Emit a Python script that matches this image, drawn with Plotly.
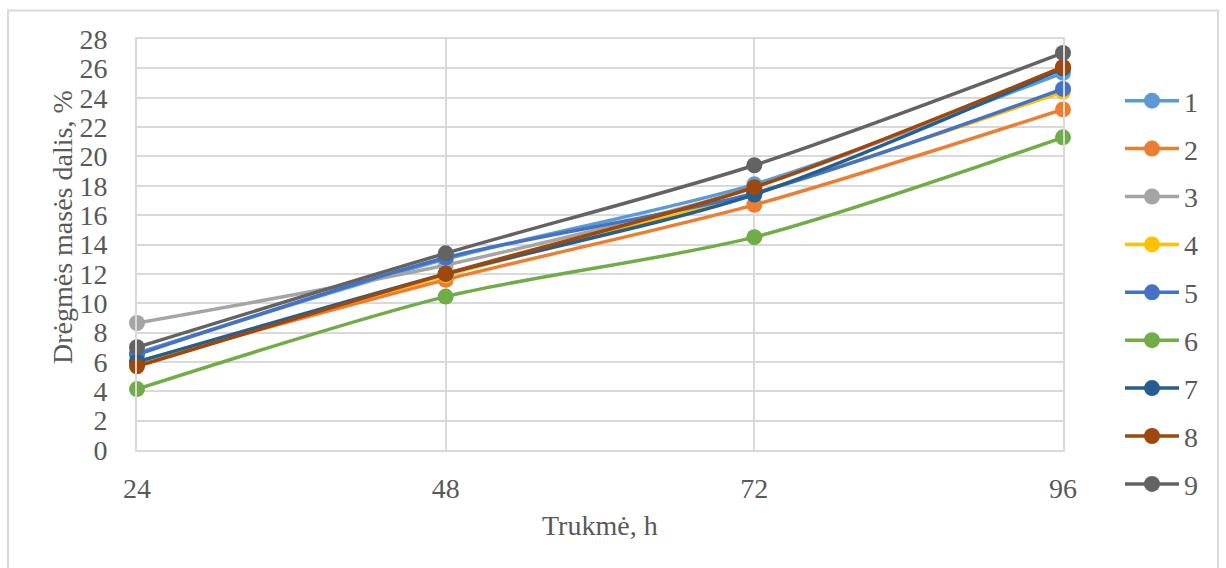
import plotly.graph_objects as go

# Drying duration (hours)
hours = [24, 48, 72, 96]

# Moisture mass fraction (%) per sample
s1 = [6.6, 13.0, 18.1, 25.7]
s2 = [5.9, 11.6, 16.7, 23.2]
s3 = [8.65, 12.6, 17.9, 26.0]
s4 = [6.0, 11.9, 17.5, 24.4]
s5 = [6.5, 13.1, 17.5, 24.6]
s6 = [4.15, 10.45, 14.5, 21.3]
s7 = [6.0, 12.0, 17.4, 26.0]
s8 = [5.7, 12.0, 17.9, 26.1]
s9 = [7.0, 13.4, 19.4, 27.05]

series_names = ["1", "2", "3", "4", "5", "6", "7", "8", "9"]
series_values = [s1, s2, s3, s4, s5, s6, s7, s8, s9]
colors = ["#5B9BD5", "#ED7D31", "#A5A5A5", "#FFC000", "#4472C4",
          "#70AD47", "#255E91", "#9E480E", "#636363"]

y_ticks = list(range(0, 29, 2))

FONT = "Liberation Serif"
FS = 28
TXT = "#595959"
GRID = "#D9D9D9"

fig = go.Figure()
for name, vals, col in zip(series_names, series_values, colors):
    fig.add_trace(go.Scatter(
        x=hours, y=vals, name=name, mode="lines+markers",
        legendgroup=name,
        line=dict(color=col, width=3.5, shape="spline", smoothing=0.8),
        marker=dict(color=col, size=16),
        cliponaxis=False,
    ))

W, H = 1226, 568
L, R, T, B = 137, 1063, 39, 450
pw, ph = R - L, B - T

def px(x):
    return (x - L) / pw

def py(y):
    return (B - y) / ph

fig.update_layout(
    width=W, height=H,
    margin=dict(l=L, r=W - R, t=T, b=H - B, pad=0),
    paper_bgcolor="white", plot_bgcolor="white",
    font=dict(family=FONT, size=FS, color=TXT),
    showlegend=True,
    legend=dict(
        x=px(1120), y=py(76), xanchor="left", yanchor="top",
        font=dict(family=FONT, size=FS, color=TXT),
        tracegroupgap=8.5, itemwidth=54, maxheight=520,
        bgcolor="rgba(0,0,0,0)",
    ),
    xaxis=dict(
        range=[24, 96], tickvals=hours, ticktext=[str(h) for h in hours],
        showgrid=True, gridcolor=GRID, gridwidth=2,
        showline=True, linecolor=GRID, linewidth=2, mirror=True,
        zeroline=False, ticks="", ticklabelstandoff=12,
        tickfont=dict(family=FONT, size=FS, color=TXT),
    ),
    yaxis=dict(
        range=[0, 28], tickvals=y_ticks,
        showgrid=True, gridcolor=GRID, gridwidth=2,
        showline=True, linecolor=GRID, linewidth=2, mirror=True,
        zeroline=False, ticks="", ticklabelstandoff=22,
        tickfont=dict(family=FONT, size=FS, color=TXT),
    ),
    annotations=[
        dict(text="Trukmė, h", xref="paper", yref="paper",
             x=px(600), y=py(525), xanchor="center", yanchor="middle",
             showarrow=False, font=dict(family=FONT, size=FS, color=TXT)),
        dict(text="Drėgmės masės dalis, %", xref="paper", yref="paper",
             x=px(62), y=py(227), xanchor="center", yanchor="middle",
             textangle=-90, showarrow=False,
             font=dict(family=FONT, size=FS, color=TXT)),
    ],
    shapes=[
        dict(type="rect", xref="paper", yref="paper",
             x0=px(8), x1=px(1218), y0=py(600), y1=py(10.5),
             line=dict(color=GRID, width=2), fillcolor="rgba(0,0,0,0)",
             layer="below"),
    ],
)

fig.write_html("out.html")
